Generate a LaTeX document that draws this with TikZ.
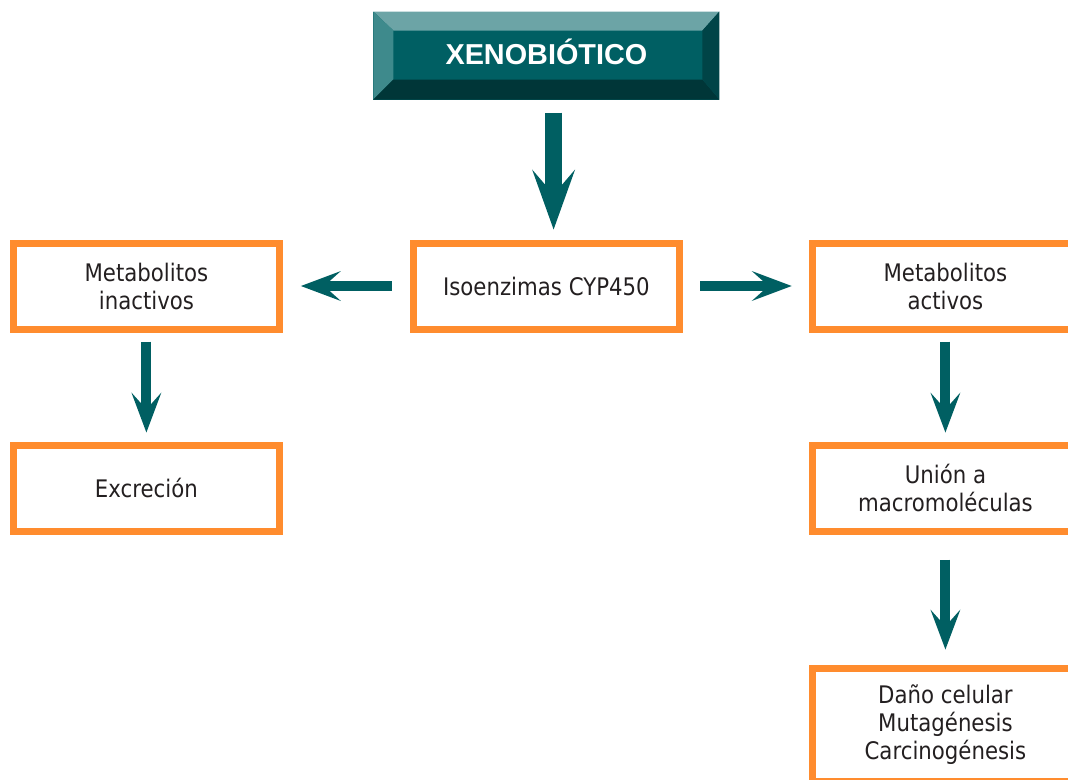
\documentclass[tikz,border=0pt]{standalone}
\usepackage{fontspec}
\setmainfont{DejaVu Sans}[FakeStretch=0.88]
\newfontfamily\xenofont{Liberation Sans}
\usepackage{tikz}
\usetikzlibrary{positioning,arrows.meta}

\definecolor{boxorange}{RGB}{255,140,46}
\definecolor{arrowteal}{RGB}{0,95,98}
\definecolor{xenomid}{RGB}{0,95,99}
\definecolor{xenotop}{RGB}{108,164,166}
\definecolor{xenoleft}{RGB}{62,138,140}
\definecolor{xenobottom}{RGB}{0,54,56}
\definecolor{xenoright}{RGB}{0,68,71}
\definecolor{boxtext}{RGB}{35,31,32}

\begin{document}
\begin{tikzpicture}[
  mybox/.style={draw=boxorange,line width=0.175cm,minimum width=6.65cm,minimum height=2.15cm,
    align=center,inner sep=0pt,text=boxtext,font=\fontsize{17.2pt}{19.9pt}\selectfont},
  myarrow/.style={draw=arrowteal,line width=0.25cm,
    -{Stealth[length=1cm,width=0.75cm,inset=0.42cm,line width=0pt]}},
  bigarrow/.style={draw=arrowteal,line width=0.425cm,
    -{Stealth[length=1.5cm,width=1.075cm,inset=0.625cm,line width=0pt]}}
]
\useasboundingbox (0,0) rectangle (26.7,-19.475);

\node[mybox] at (13.66,-7.15) (iso) {Isoenzimas CYP450};
\node[mybox, left=3.175cm of iso] (inact) {Metabolitos\\inactivos};
\node[mybox, right=3.15cm of iso] (act) {Metabolitos\\activos};
\node[mybox, below=2.725cm of inact] (excr) {Excreción};
\node[mybox, below=2.725cm of act] (union) {Unión a\\macromoléculas};
\node[mybox, below=3.25cm of union, minimum height=2.825cm] (dano)
  {Daño celular\\Mutagénesis\\Carcinogénesis};

\node[fill=xenomid,minimum width=8.65cm,minimum height=2.2cm,inner sep=0pt,outer sep=0pt,
  above=3.5cm of iso] (xeno) {};
% bevel
\fill[xenotop] (xeno.north west) -- (xeno.north east) -- ([shift={(-0.425,-0.475)}]xeno.north east)
  -- ([shift={(0.5,-0.475)}]xeno.north west) -- cycle;
\fill[xenoleft] (xeno.north west) -- ([shift={(0.5,-0.475)}]xeno.north west)
  -- ([shift={(0.5,0.5)}]xeno.south west) -- (xeno.south west) -- cycle;
\fill[xenobottom] (xeno.south west) -- ([shift={(0.5,0.5)}]xeno.south west)
  -- ([shift={(-0.425,0.5)}]xeno.south east) -- (xeno.south east) -- cycle;
\fill[xenoright] (xeno.north east) -- (xeno.south east) -- ([shift={(-0.425,0.5)}]xeno.south east)
  -- ([shift={(-0.425,-0.475)}]xeno.north east) -- cycle;
\node[text=white,font=\xenofont\bfseries\fontsize{20.5pt}{24pt}\selectfont] at ([yshift=0.08cm]xeno.center) (xenotext) {XENOBIÓTICO};

\draw[bigarrow, shorten <=0.325cm, shorten >=0.25cm] ([xshift=0.18cm]xeno.south) -- ([xshift=0.18cm]iso.north);
\draw[myarrow, shorten <=0.45cm, shorten >=0.45cm] (iso.west) -- (inact.east);
\draw[myarrow, shorten <=0.43cm, shorten >=0.43cm] (iso.east) -- (act.west);
\draw[myarrow, shorten <=0.225cm, shorten >=0.225cm] (inact.south) -- (excr.north);
\draw[myarrow, shorten <=0.225cm, shorten >=0.225cm] (act.south) -- (union.north);
\draw[myarrow, shorten <=0.625cm, shorten >=0.375cm] (union.south) -- (dano.north);

\end{tikzpicture}
\end{document}
